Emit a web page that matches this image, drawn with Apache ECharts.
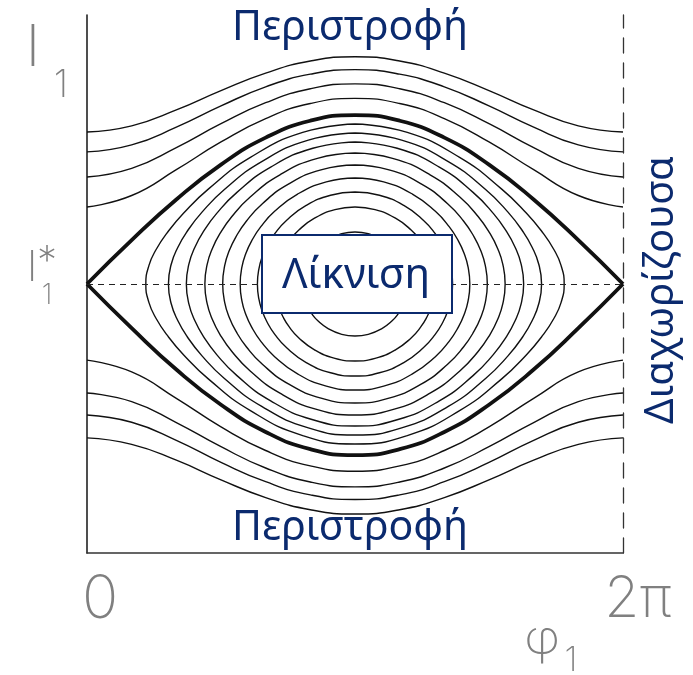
<!DOCTYPE html>
<html>
<head>
<meta charset="utf-8">
<title>Διαχωρίζουσα</title>
<script src="https://cdn.jsdelivr.net/npm/echarts@6/dist/echarts.min.js"></script>
<style>
  html, body { margin: 0; padding: 0; background: #ffffff; }
  #chart { width: 693px; height: 675px; }
</style>
</head>
<body>
<div id="chart"></div>
<script>
(function () {
const PI = Math.PI;
const I_STAR = 1;

// Rotation curves: action I at phases 0 … π (in units of π); the curves are symmetric about φ = π
const rotationPhase = [0, 1 / 6, 2 / 6, 3 / 6, 4 / 6, 5 / 6, 1];
const rotationUpper = [
  [1.286, 1.329, 1.425, 1.528, 1.615, 1.671, 1.690],
  [1.398, 1.430, 1.507, 1.596, 1.674, 1.726, 1.744],
  [1.491, 1.517, 1.583, 1.662, 1.733, 1.780, 1.797],
  [1.565, 1.588, 1.647, 1.719, 1.784, 1.829, 1.845]
];
const rotationLower = [
  [0.717, 0.673, 0.575, 0.469, 0.381, 0.324, 0.304],
  [0.595, 0.563, 0.485, 0.395, 0.316, 0.264, 0.246],
  [0.513, 0.486, 0.419, 0.337, 0.265, 0.216, 0.199],
  [0.428, 0.404, 0.345, 0.272, 0.206, 0.161, 0.145]
];

// Separatrix branches through the hyperbolic point (0, I*) and (2π, I*)
const separatrixUpper = [1.000, 1.163, 1.314, 1.444, 1.544, 1.607, 1.628];
const separatrixLower = [1.000, 0.836, 0.682, 0.551, 0.450, 0.386, 0.364];

// Libration curves around (π, I*): half width in φ, and half height |I − I*|
// at fractions of that half width (0 = centre, 1 = turning point)
const librationHalfWidth = [0.622, 0.940, 1.144, 1.346, 1.551, 1.760, 1.977, 2.187, 2.452];
const librationFraction = [0, 0.25, 0.5, 0.7, 0.82, 0.9, 0.95, 0.985, 1];
const librationHeight = [
  [0.1933, 0.1870, 0.1668, 0.1370, 0.1095, 0.0832, 0.0595, 0.0328, 0],
  [0.2862, 0.2765, 0.2455, 0.2006, 0.1596, 0.1209, 0.0863, 0.0476, 0],
  [0.3420, 0.3299, 0.2919, 0.2373, 0.1882, 0.1421, 0.1013, 0.0557, 0],
  [0.3941, 0.3795, 0.3343, 0.2701, 0.2131, 0.1604, 0.1140, 0.0626, 0],
  [0.4424, 0.4253, 0.3723, 0.2986, 0.2342, 0.1755, 0.1243, 0.0681, 0],
  [0.4870, 0.4671, 0.4059, 0.3223, 0.2509, 0.1869, 0.1318, 0.0720, 0],
  [0.5279, 0.5046, 0.4345, 0.3406, 0.2624, 0.1938, 0.1360, 0.0740, 0],
  [0.5613, 0.5348, 0.4552, 0.3512, 0.2671, 0.1952, 0.1359, 0.0735, 0],
  [0.5948, 0.5634, 0.4707, 0.3537, 0.2628, 0.1883, 0.1292, 0.0691, 0]
];

const xTickValues = [0, 2 * PI];
const xTickLabels = ['0', '2π'];

const INK = '#111111';
const GREY = '#808080';
const NAVY = '#0b2a6e';

function rotationPoints(values) {
  const pts = rotationPhase.map((p, i) => [p * PI, values[i]]);
  for (let i = rotationPhase.length - 2; i >= 0; i--) {
    pts.push([(2 - rotationPhase[i]) * PI, values[i]]);
  }
  return pts;
}

// closed loop: top centre → right turning point → bottom → left turning point → top centre
function librationPoints(k) {
  const w = librationHalfWidth[k];
  const h = librationHeight[k];
  const f = librationFraction;
  const n = f.length;
  const pts = [];
  for (let i = 0; i < n; i++) pts.push([PI + f[i] * w, I_STAR + h[i]]);
  for (let i = n - 2; i >= 0; i--) pts.push([PI + f[i] * w, I_STAR - h[i]]);
  for (let i = 1; i < n; i++) pts.push([PI - f[i] * w, I_STAR - h[i]]);
  for (let i = n - 2; i >= 0; i--) pts.push([PI - f[i] * w, I_STAR + h[i]]);
  return pts;
}

function curve(data, width) {
  return {
    type: 'line',
    data: data,
    smooth: 0.5,
    symbol: 'none',
    silent: true,
    animation: false,
    lineStyle: { color: INK, width: width }
  };
}

const series = [];
rotationUpper.forEach(v => series.push(curve(rotationPoints(v), 1.4)));
rotationLower.forEach(v => series.push(curve(rotationPoints(v), 1.4)));
librationHalfWidth.forEach((_, k) => series.push(curve(librationPoints(k), 1.4)));
series.push(curve(rotationPoints(separatrixUpper), 3.8));
series.push(curve(rotationPoints(separatrixLower), 3.8));

// dashed level I = I*
series[0].markLine = {
  silent: true,
  symbol: 'none',
  animation: false,
  label: { show: false },
  lineStyle: { color: '#222', width: 1.2, type: [6, 5] },
  data: [{ yAxis: I_STAR }]
};

const chart = echarts.init(document.getElementById('chart'), null, { renderer: 'canvas' });

chart.setOption({
  backgroundColor: '#ffffff',
  animation: false,
  grid: { left: 87, right: 70, top: 15, bottom: 122 },
  xAxis: {
    type: 'value',
    min: 0,
    max: 2 * PI,
    axisLine: { lineStyle: { color: '#333', width: 1.6 } },
    axisTick: { show: false },
    axisLabel: { show: false },
    splitLine: { show: false }
  },
  yAxis: [
    {
      type: 'value',
      min: 0,
      max: 2,
      axisLine: { show: true, lineStyle: { color: '#222', width: 1.6 } },
      axisTick: { show: false },
      axisLabel: { show: false },
      splitLine: { show: false }
    },
    {
      type: 'value',
      position: 'right',
      min: 0,
      max: 2,
      axisLine: { show: true, lineStyle: { color: '#333', width: 1.3, type: [15, 10] } },
      axisTick: { show: false },
      axisLabel: { show: false },
      splitLine: { show: false }
    }
  ],
  series: series
});

// axis annotations placed from the axis scales
function px(x, y) { return chart.convertToPixel({ gridIndex: 0 }, [x, y]); }
const origin = px(0, 0);
const star = px(0, I_STAR);
const axisTop = px(0, 2);

function grey(text, x, y, size) {
  return {
    type: 'text', x: x, y: y, silent: true,
    style: {
      text: text, fill: GREY, align: 'center', verticalAlign: 'middle',
      font: '200 ' + size + 'px Inter, Roboto, Lato, sans-serif'
    }
  };
}
function navy(text, x, y, size, rotation) {
  return {
    type: 'text', x: x, y: y, rotation: rotation || 0, silent: true, z: 20,
    style: {
      text: text, fill: NAVY, align: 'center', verticalAlign: 'middle',
      font: size + 'px "Noto Sans", "Open Sans", sans-serif'
    }
  };
}

const graphics = [];
xTickValues.forEach((v, i) => {
  const p = px(v, 0);
  graphics.push(grey(xTickLabels[i], p[0] + (i === 0 ? 13 : 15), origin[1] + 47, i === 0 ? 60 : 57));
});
graphics.push(grey('φ', 542, 640, 48));
graphics.push(grey('1', 571, 661, 34));
graphics.push(grey('I', axisTop[0] - 54, axisTop[1] + 34, 58));
graphics.push(grey('1', axisTop[0] - 26, axisTop[1] + 71, 38));
graphics.push(grey('I', star[0] - 55, star[1] - 16, 42));
graphics.push(grey('*', star[0] - 40, star[1] - 22, 40));
graphics.push(grey('1', star[0] - 40, star[1] + 12, 28));

graphics.push(navy('Περιστροφή', 350, 28, 41));
graphics.push(navy('Περιστροφή', 350, 528, 41));
graphics.push({
  type: 'rect', silent: true, z: 19,
  shape: { x: 262, y: 235, width: 190, height: 78 },
  style: { fill: '#ffffff', stroke: NAVY, lineWidth: 2 }
});
graphics.push(navy('Λίκνιση', 356, 276, 42));
graphics.push(navy('Διαχωρίζουσα', 662, 290, 40, PI / 2));

chart.setOption({ graphic: graphics });
})();
</script>
</body>
</html>
